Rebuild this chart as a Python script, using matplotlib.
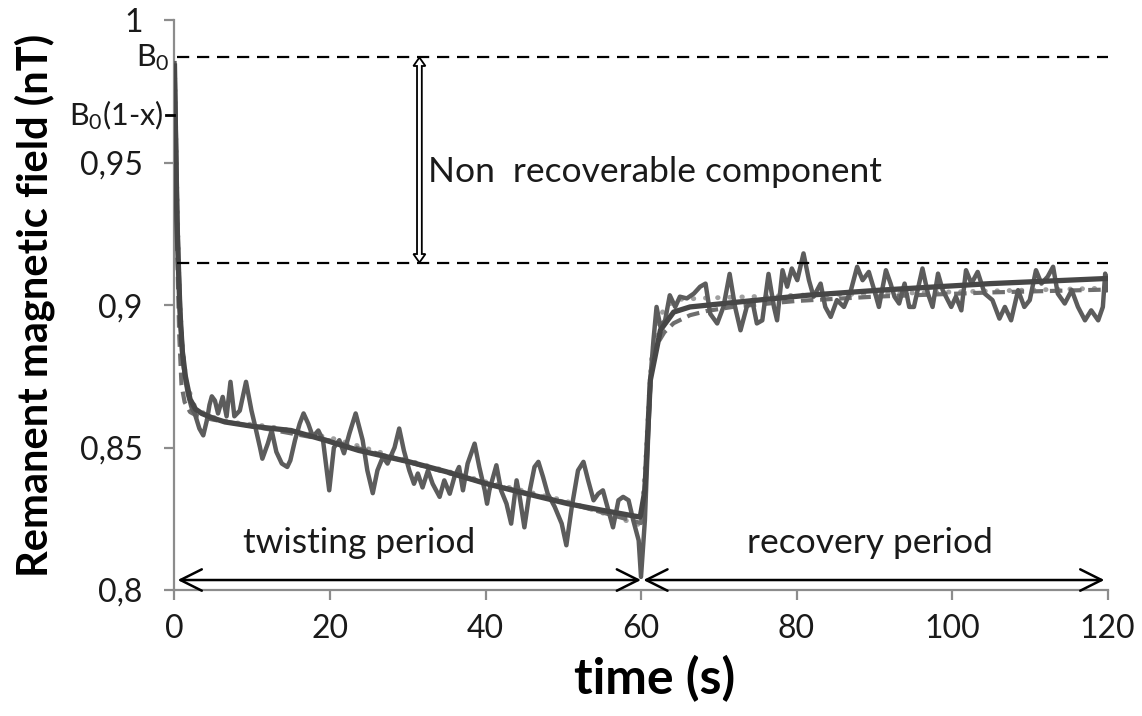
import matplotlib
matplotlib.use("Agg")
import matplotlib.pyplot as plt
import matplotlib.path as mpath
import matplotlib.patches as mpatches
import matplotlib.transforms as mtransforms

plt.rcParams["font.family"] = ["Lato", "DejaVu Sans"]
plt.rcParams["mathtext.default"] = "regular"

sig_t = [0, 0.25, 0.5, 0.8, 1.2, 1.7, 2.2, 2.6, 3.2, 3.7, 4.2, 4.5, 4.8, 5.2, 5.6, 6.2, 6.7, 7.2, 7.7, 8.4,
         9.2, 9.9, 10.3, 11.0, 11.3, 12.0, 12.5, 13.1, 13.8, 14.5, 14.9, 15.5, 16.1, 16.6, 17.2, 17.8, 18.5, 19.1,
         19.9, 20.5, 21.2, 21.8, 22.5, 23.3, 24.2, 24.8, 25.5, 26.1, 26.8, 27.4, 28.3, 28.9, 29.5, 30.2, 30.8,
         31.3, 31.9, 32.6, 33.2, 34.1, 34.7, 35.4, 36.0, 36.6, 37.1, 37.7, 38.6, 39.2, 39.9, 40.2, 40.5, 41.4,
         42.0, 42.7, 43.3, 44.0, 44.4, 45.0, 45.7, 46.3, 46.8, 47.4, 48.0, 48.9, 49.8, 50.4, 51.1, 51.9, 52.6,
         53.2, 53.9, 54.5, 55.1, 55.8, 56.4, 57.1, 57.7, 58.4, 59.0, 59.7, 60.0, 60.5, 61.2, 61.6, 62.0, 62.5,
         63.1, 63.7, 64.4, 65.0, 65.9, 66.8, 67.6, 68.3, 68.9, 69.8, 70.6, 71.4, 72.1, 72.8, 73.6, 74.3, 74.9,
         75.6, 76.4, 77.1, 77.5, 78.2, 78.8, 79.4, 80.1, 80.9, 81.6, 82.2, 83.1, 83.7, 84.4, 85.2, 86.1, 87.0,
         87.8, 88.5, 89.3, 90.0, 90.6, 91.5, 92.1, 92.6, 93.2, 93.9, 94.5, 95.1, 96.2, 96.9, 97.5, 98.2, 98.8,
         99.9, 100.5, 101.2, 101.8, 102.5, 103.3, 104.2, 105.2, 106.1, 106.8, 107.6, 108.5, 109.3, 110.0, 110.8,
         111.5, 112.3, 113.0, 113.6, 114.5, 115.4, 116.2, 117.1, 117.9, 118.8, 119.4, 119.7, 120.0]
sig_b = [0.985, 0.95, 0.915, 0.893, 0.878, 0.869, 0.864, 0.862, 0.8567, 0.8543, 0.86, 0.865, 0.868, 0.8665,
         0.862, 0.8678, 0.861, 0.8731, 0.861, 0.863, 0.8731, 0.863, 0.8584, 0.850, 0.8461, 0.8514, 0.856, 0.8485,
         0.8444, 0.8432, 0.8455, 0.8526, 0.8584, 0.862, 0.8584, 0.8538, 0.856, 0.8526, 0.835, 0.850, 0.8526,
         0.848, 0.855, 0.862, 0.8526, 0.842, 0.834, 0.842, 0.8467, 0.8444, 0.850, 0.8567, 0.849, 0.842, 0.8373,
         0.8409, 0.836, 0.842, 0.8373, 0.8327, 0.8385, 0.8338, 0.8397, 0.8432, 0.835, 0.8444, 0.8514, 0.8432,
         0.835, 0.8303, 0.835, 0.8438, 0.835, 0.8303, 0.8233, 0.8385, 0.8327, 0.822, 0.835, 0.8432, 0.845,
         0.8397, 0.8338, 0.8292, 0.8233, 0.8157, 0.8292, 0.842, 0.845, 0.8385, 0.8315, 0.8338, 0.835, 0.828,
         0.822, 0.8315, 0.8327, 0.8315, 0.8245, 0.8174, 0.8046, 0.8245, 0.8737, 0.8877, 0.8994, 0.8924, 0.8947,
         0.9035, 0.8994, 0.903, 0.9024, 0.9041, 0.9065, 0.9076, 0.897, 0.8936, 0.8994, 0.911, 0.8994, 0.8912,
         0.8994, 0.9018, 0.8936, 0.8947, 0.911, 0.8994, 0.8947, 0.9123, 0.9065, 0.9129, 0.9088, 0.9182, 0.9088,
         0.903, 0.9076, 0.8994, 0.8959, 0.9018, 0.8994, 0.9053, 0.9135, 0.9088, 0.9117, 0.9053, 0.8994, 0.9123,
         0.9076, 0.903, 0.9006, 0.9076, 0.8994, 0.8994, 0.9129, 0.9041, 0.8994, 0.9111, 0.9053, 0.8994, 0.903,
         0.8982, 0.9123, 0.9076, 0.9117, 0.9041, 0.9018, 0.8953, 0.8994, 0.8947, 0.9053, 0.8994, 0.9018, 0.9123,
         0.9076, 0.910, 0.9135, 0.9041, 0.9006, 0.9053, 0.8994, 0.8947, 0.8982, 0.8947, 0.8994, 0.9111, 0.9053]

# fitted curves
fit_t = [0, 0.3, 0.7, 1.0, 1.4, 2.0, 2.7, 3.5, 5, 6.5, 10, 15, 19.4, 23.7, 30.2, 35, 40, 45, 50.6, 55, 59.9,
         60.5, 61.2, 62.5, 64.2, 66.3, 72.8, 81.4, 90.8, 105, 120]
fit_b = [0.984, 0.93, 0.898, 0.884, 0.875, 0.867, 0.8635, 0.862, 0.8603, 0.859, 0.8575, 0.856, 0.8526, 0.849,
         0.845, 0.8415, 0.8374, 0.834, 0.8303, 0.828, 0.8256, 0.835, 0.8737, 0.8913, 0.8976, 0.8994, 0.9012,
         0.9035, 0.9053, 0.9076, 0.9094]

dash_t = [0, 0.3, 0.6, 0.9, 1.3, 2, 3, 5, 10, 20, 30, 40, 50, 60, 60.6, 61.3, 62, 63, 64.2, 66.3, 68.5, 72,
          80, 90, 105, 120]
dash_b = [0.984, 0.925, 0.89, 0.872, 0.866, 0.8625, 0.861, 0.8598, 0.8575, 0.8525, 0.845, 0.8375, 0.831,
          0.8235, 0.84, 0.877, 0.886, 0.8905, 0.8937, 0.8965, 0.898, 0.8995, 0.9015, 0.903, 0.9045, 0.9055]

dot_t = [0, 0.3, 0.6, 1, 1.5, 2.5, 4, 7, 12, 20, 30, 40, 50, 60, 60.6, 61.3, 62, 63, 64.5, 68, 80, 90, 105, 120]
dot_b = [0.984, 0.94, 0.905, 0.885, 0.873, 0.865, 0.8615, 0.859, 0.8575, 0.8535, 0.8455, 0.838, 0.8315,
         0.8227, 0.845, 0.88, 0.893, 0.899, 0.902, 0.9025, 0.9035, 0.904, 0.905, 0.906]

x_ticks = [0, 20, 40, 60, 80, 100, 120]
y_ticks = [0.8, 0.85, 0.9, 0.95, 1.0]
y_tick_labels = ["0,8", "0,85", "0,9", "0,95", "1"]

b0 = 0.987
b0_x = 0.9668
b_floor = 0.915
arrow_t = 31.5
period_y = 0.8035
t_switch = 60

fig = plt.figure(figsize=(11.42, 7.16), dpi=100)
ax = fig.add_axes([0.1528, 0.176, 0.817, 0.7954])

ax.plot(dot_t, dot_b, color="#a0a0a0", lw=3.5, linestyle=(0, (0.1, 2.4)), dash_capstyle="round", zorder=2)
ax.plot(dash_t, dash_b, color="#6e6e6e", lw=3, linestyle=(0, (3, 1.6)), zorder=2)
ax.plot(sig_t, sig_b, color="#5c5c5c", lw=3.2, zorder=3)
ax.plot(fit_t, fit_b, color="#474747", lw=3.8, zorder=4)

ax.set_xlim(0, 120)
ax.set_ylim(0.8, 1.0)
ax.set_xticks(x_ticks)
ax.set_yticks(y_ticks)
ax.set_yticklabels(y_tick_labels)

for side in ("top", "right"):
    ax.spines[side].set_visible(False)
for side in ("left", "bottom"):
    ax.spines[side].set_color("#8c8c8c")
    ax.spines[side].set_linewidth(1.6)
ax.tick_params(axis="both", direction="out", length=7, width=1.6, color="#8c8c8c",
               labelsize=23, labelcolor="#1a1a1a")
ax.tick_params(axis="y", pad=16)
ax.tick_params(axis="x", pad=10)

ax.set_xlabel("time (s)", fontsize=36, fontweight="bold", labelpad=10)
ax.xaxis.set_label_coords(0.515, -0.115)
ax.set_ylabel("Remanent magnetic field (nT)", fontsize=30, fontweight="bold", labelpad=18)

# reference levels
ax.axhline(b0, xmin=0.003, color="black", lw=1.6, linestyle=(0, (5.5, 3.5)), zorder=5)
ax.axhline(b_floor, xmin=0.003, color="black", lw=1.6, linestyle=(0, (5.5, 3.5)), zorder=5)

ax.text(-0.6, b0, "B$_0$", fontsize=22, ha="right", va="center", color="#1a1a1a", clip_on=False)
ax.text(-1.4, b0_x, "B$_0$(1-x)", fontsize=22, ha="right", va="center", color="#1a1a1a", clip_on=False)
ax.plot([-1.1, 0], [b0_x, b0_x], color="black", lw=2, clip_on=False, zorder=6)

# hollow double arrow between the two levels
p_lo = ax.transData.transform((arrow_t, b_floor))
p_hi = ax.transData.transform((arrow_t, b0))
L = (p_hi[1] - p_lo[1]) / fig.dpi
w, hw, hl = 0.024, 0.06, 0.085
verts = [(0, 0), (hw, hl), (w, hl), (w, L - hl), (hw, L - hl), (0, L), (-hw, L - hl), (-w, L - hl),
         (-w, hl), (-hw, hl), (0, 0)]
codes = [mpath.Path.MOVETO] + [mpath.Path.LINETO] * 9 + [mpath.Path.CLOSEPOLY]
trans = fig.dpi_scale_trans + mtransforms.ScaledTranslation(arrow_t, b_floor, ax.transData)
ax.add_patch(mpatches.PathPatch(mpath.Path(verts, codes), facecolor="white", edgecolor="black",
                                lw=1.3, transform=trans, zorder=6, clip_on=False))

ax.text(32.6, 0.9468, "Non  recoverable component", fontsize=25.5, ha="left", va="center", color="#1a1a1a")

# period arrows
arrow_kw = dict(arrowstyle="<->,head_length=0.7,head_width=0.35", color="black", lw=1.8,
                shrinkA=0, shrinkB=0, mutation_scale=22)
ax.annotate("", xy=(t_switch, period_y), xytext=(0.4, period_y), arrowprops=arrow_kw, zorder=6)
ax.annotate("", xy=(119.6, period_y), xytext=(t_switch + 0.3, period_y), arrowprops=arrow_kw, zorder=6)
ax.text(23.8, 0.8165, "twisting period", fontsize=25.5, ha="center", va="center", color="#1a1a1a")
ax.text(89.5, 0.8165, "recovery period", fontsize=25.5, ha="center", va="center", color="#1a1a1a")

fig.savefig("out.png", dpi=100)
